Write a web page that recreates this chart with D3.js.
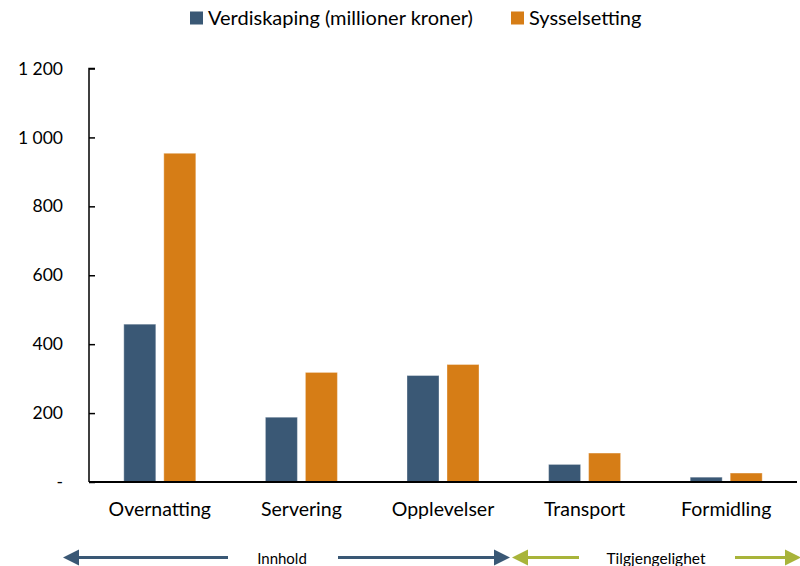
<!DOCTYPE html>
<html><head><meta charset="utf-8">
<script src="https://cdn.jsdelivr.net/npm/d3@7"></script>
<style>body{margin:0;background:#fff}svg{display:block;font-family:Lato,"Open Sans",sans-serif}</style>
</head><body><svg id="c" width="800" height="566"></svg>
<script>
const categories = ["Overnatting","Servering","Opplevelser","Transport","Formidling"];
const verdiskaping = [458, 188, 309, 51, 14];
const sysselsetting = [954, 318, 341, 84, 26];
const seriesNames = ["Verdiskaping (millioner kroner)","Sysselsetting"];
const yTicks = [0,200,400,600,800,1000,1200];
const groups = [{label:"Innhold", from:0, to:3}, {label:"Tilgjengelighet", from:3, to:5}];

const colors = ["#3A5875","#D67D16"];
const green = "#A8B43A";
const svg = d3.select("#c");
const x0 = 89, x1 = 797, yTop = 68.5, yBot = 482;
const x = d3.scaleBand().domain(categories).range([x0,x1]).padding(0);
const y = d3.scaleLinear().domain([0,1200]).range([yBot,yTop]);
const sub = d3.scaleBand().domain([0,1]).range([-36,36]).paddingInner(0.2);

// bars
const series = [verdiskaping, sysselsetting];
series.forEach((vals,si)=>{
  svg.append("g").selectAll("rect").data(categories).join("rect")
    .attr("x", (c)=> x(c)+x.bandwidth()/2+sub(si))
    .attr("width", sub.bandwidth())
    .attr("y", (c,i)=> y(vals[i]))
    .attr("height", (c,i)=> y(0)-y(vals[i]))
    .attr("fill", colors[si])
    .attr("stroke", "rgba(255,255,255,0.35)").attr("stroke-width",1);
});

// y axis
const fmt = d => d===0 ? "-" : d3.format(",")(d).replace(/,/g," ");
const ya = svg.append("g").attr("transform",`translate(${x0},0)`)
  .call(d3.axisLeft(y).tickValues(yTicks).tickSize(-6).tickPadding(26).tickFormat(fmt));
ya.select(".domain").attr("stroke","#000").attr("stroke-width",1.5).attr("d",`M6,${yTop}H0V${yBot}`);
ya.selectAll(".tick line").attr("stroke","#000").attr("stroke-width",1.5);
ya.selectAll(".tick text").attr("font-size",17.5).attr("fill","#000").attr("font-family","Lato,sans-serif");

// x axis baseline
svg.append("line").attr("x1",x0).attr("x2",x1).attr("y1",yBot).attr("y2",yBot)
  .attr("stroke","#000").attr("stroke-width",2);

// category labels
svg.append("g").selectAll("text").data(categories).join("text")
  .attr("x", c=> x(c)+x.bandwidth()/2).attr("y", 516)
  .attr("text-anchor","middle").attr("font-size",19.5).attr("fill","#000").text(c=>c);

// legend
const leg = [{x:190, t:seriesNames[0], c:colors[0]},{x:511, t:seriesNames[1], c:colors[1]}];
leg.forEach(l=>{
  svg.append("rect").attr("x",l.x).attr("y",11.5).attr("width",13).attr("height",13).attr("fill",l.c);
  svg.append("text").attr("x",l.x+18).attr("y",24.5).attr("font-size",20).attr("fill","#000").text(l.t);
});

// bottom arrows
function arrow(xa, xb, col, dir){ // line from xa to xb with head at xb
  const ay = 557.5;
  svg.append("line").attr("x1",xa).attr("x2",xb - dir*14).attr("y1",ay).attr("y2",ay)
    .attr("stroke",col).attr("stroke-width",3);
  svg.append("path").attr("d",`M${xb},${ay} L${xb-dir*16},${ay-8} L${xb-dir*16},${ay+8} Z`).attr("fill",col);
}
arrow(228, 63, colors[0], -1);
arrow(338, 510, colors[0], 1);
arrow(579, 512, green, -1);
arrow(735, 801, green, 1);
svg.append("text").attr("x",282).attr("y",563.5).attr("text-anchor","middle").attr("font-size",15).text(groups[0].label);
svg.append("text").attr("x",656).attr("y",563.5).attr("text-anchor","middle").attr("font-size",15.5).text(groups[1].label);
</script></body></html>
